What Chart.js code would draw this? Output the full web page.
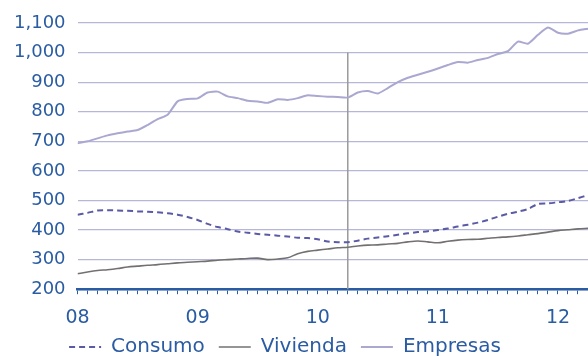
<!DOCTYPE html>
<html>
<head>
  <title>Consumo, Vivienda, Empresas</title>
  <script src="https://cdn.jsdelivr.net/npm/chart.js@4/dist/chart.umd.min.js"></script>
  <style>
    body { margin: 0; background: #fff; }
    #chart-container { width: 588px; height: 356px; }
  </style>
</head>
<body>
  <div id="chart-container">
    <canvas id="chart"></canvas>
  </div>

  <script>
    // meses desde enero 2008 (0 = ene-08)
    var months = [];
    for (var i = 0; i < 52; i++) months.push(i);

    var yearLabels = ['08', '09', '10', '11', '12'];
    var yTicks = [200, 300, 400, 500, 600, 700, 800, 900, 1000, 1100];
    var markerMonth = 27;   // línea vertical
    var markerTop = 1000;

    var consumo = [452, 458, 466, 467, 466, 465, 463, 462, 460, 457, 452, 444,
                   434, 421, 410, 403, 395, 391, 387, 384, 381, 378, 374, 373,
                   369, 361, 359, 359, 364, 371, 375, 379, 384, 389, 393, 396,
                   400, 405, 412, 418, 425, 434, 445, 455, 462, 471, 488, 490,
                   494, 498, 508, 518];
    var vivienda = [252, 258, 263, 266, 270, 275, 278, 281, 283, 286, 289, 291,
                    293, 295, 298, 300, 302, 304, 305, 300, 302, 306, 320, 328,
                    332, 336, 340, 342, 346, 349, 350, 353, 355, 360, 363, 360,
                    357, 362, 366, 368, 369, 372, 375, 377, 380, 384, 388, 393,
                    398, 401, 404, 406];
    var empresas = [693, 700, 710, 720, 727, 733, 738, 755, 775, 790, 835, 843,
                    845, 865, 868, 852, 846, 837, 835, 830, 842, 840, 846, 856,
                    853, 851, 850, 848, 865, 870, 862, 880, 900, 915, 925, 935,
                    946, 958, 968, 966, 975, 982, 995, 1005, 1037, 1030, 1060, 1085,
                    1067, 1064, 1075, 1081];

    var blue = '#2a5ca3';
    var font = 'DejaVu Sans';

    function toPoints(arr) {
      return arr.map(function (v, i) { return { x: months[i], y: v }; });
    }

    // línea vertical gris
    var markerLine = {
      id: 'markerLine',
      beforeDatasetsDraw: function (chart) {
        var ctx = chart.ctx;
        var x = chart.scales.x.getPixelForValue(markerMonth);
        var top = chart.scales.y.getPixelForValue(markerTop);
        ctx.save();
        ctx.strokeStyle = '#9a9a9a';
        ctx.lineWidth = 1.5;
        ctx.beginPath();
        ctx.moveTo(x, top);
        ctx.lineTo(x, chart.chartArea.bottom);
        ctx.stroke();
        ctx.restore();
      }
    };

    // mover la leyenda un poco a la izquierda y arriba
    var legendShift = {
      id: 'legendShift',
      afterLayout: function (chart) {
        var lg = chart.legend;
        var dx = -10, dy = -18;
        lg.left += dx; lg.right += dx;
        lg.top += dy; lg.bottom += dy;
      }
    };

    var ctx = document.getElementById('chart').getContext('2d');
    new Chart(ctx, {
      type: 'line',
      data: {
        datasets: [
          {
            label: 'Consumo',
            data: toPoints(consumo),
            borderColor: '#5a5aa6',
            backgroundColor: '#5a5aa6',
            borderWidth: 2,
            borderDash: [6, 4],
            pointRadius: 0,
            tension: 0.3
          },
          {
            label: 'Vivienda',
            data: toPoints(vivienda),
            borderColor: '#747070',
            backgroundColor: '#747070',
            borderWidth: 1.6,
            pointRadius: 0,
            tension: 0.3
          },
          {
            label: 'Empresas',
            data: toPoints(empresas),
            borderColor: '#aaa8d0',
            backgroundColor: '#aaa8d0',
            borderWidth: 2,
            pointRadius: 0,
            tension: 0.2
          }
        ]
      },
      options: {
        responsive: true,
        maintainAspectRatio: false,
        animation: false,
        layout: { padding: { top: 23, right: 0, left: 2, bottom: -29 } },
        plugins: {
          tooltip: { enabled: false },
          legend: {
            position: 'bottom',
            labels: {
              usePointStyle: true,
              pointStyle: 'line',
              pointStyleWidth: 32,
              boxWidth: 32,
              boxHeight: 10,
              padding: 14,
              color: blue,
              font: { family: font, size: 20 },
              generateLabels: function (chart) {
                var items = Chart.defaults.plugins.legend.labels.generateLabels(chart);
                items.forEach(function (it) {
                  var ds = chart.data.datasets[it.datasetIndex];
                  it.lineDash = ds.borderDash || [];
                  it.lineWidth = ds.borderWidth;
                  it.strokeStyle = ds.borderColor;
                });
                return items;
              }
            }
          }
        },
        scales: {
          x: {
            type: 'linear',
            min: 0,
            max: 51,
            afterBuildTicks: function (axis) {
              axis.ticks = months.map(function (m) { return { value: m }; });
            },
            afterFit: function (axis) {
              axis.paddingRight = 0;
            },
            grid: {
              drawOnChartArea: false,
              drawTicks: true,
              tickLength: 5,
              color: blue,
              lineWidth: 1
            },
            border: { color: blue, width: 2.5 },
            ticks: {
              autoSkip: false,
              maxRotation: 0,
              padding: 12,
              color: blue,
              font: { family: font, size: 19 },
              callback: function (v) {
                return v % 12 === 0 ? yearLabels[v / 12] : '';
              }
            }
          },
          y: {
            min: 200,
            max: 1100,
            afterBuildTicks: function (axis) {
              axis.ticks = yTicks.map(function (v) { return { value: v }; });
            },
            grid: { color: '#b6b6d8', lineWidth: 1.2, drawTicks: false },
            border: { display: false },
            ticks: {
              padding: 12,
              color: blue,
              font: { family: font, size: 18 },
              callback: function (v) { return v.toLocaleString('en-US'); }
            }
          }
        }
      },
      plugins: [markerLine, legendShift]
    });
  </script>
</body>
</html>
